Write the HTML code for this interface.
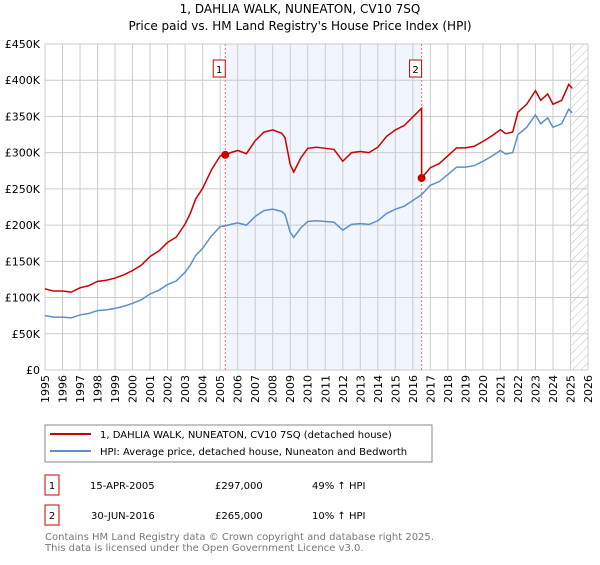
<!DOCTYPE html>
<html><head><meta charset="utf-8"><style>
body{margin:0;background:#fff;font-family:"Liberation Sans","DejaVu Sans",sans-serif;}
svg text{font-family:"DejaVu Sans","Liberation Sans",sans-serif;}
</style></head><body>
<svg id="c" width="600" height="560" viewBox="0 0 600 560" xmlns="http://www.w3.org/2000/svg">
<text x="300" y="13" font-size="12" text-anchor="middle">1, DAHLIA WALK, NUNEATON, CV10 7SQ</text>
<text x="300" y="30" font-size="12" text-anchor="middle">Price paid vs. HM Land Registry's House Price Index (HPI)</text>
<g id="plot"></g>
<rect x="45" y="425" width="387" height="37" fill="#fff" stroke="#888"/>
<line x1="50" y1="434" x2="91" y2="434" stroke="#cc0000" stroke-width="2"/>
<text x="100" y="438" font-size="10">1, DAHLIA WALK, NUNEATON, CV10 7SQ (detached house)</text>
<line x1="50" y1="451" x2="91" y2="451" stroke="#5b8fd0" stroke-width="2"/>
<text x="100" y="455" font-size="10">HPI: Average price, detached house, Nuneaton and Bedworth</text>
<rect x="45" y="475" width="14" height="20" fill="none" stroke="#cc0000"/>
<text x="52" y="489" font-size="10" text-anchor="middle">1</text>
<text x="90" y="489" font-size="10">15-APR-2005</text>
<text x="215" y="489" font-size="10">£297,000</text>
<text x="312" y="489" font-size="10">49% ↑ HPI</text>
<rect x="45" y="505" width="14" height="20" fill="none" stroke="#cc0000"/>
<text x="52" y="519" font-size="10" text-anchor="middle">2</text>
<text x="91" y="519" font-size="10">30-JUN-2016</text>
<text x="215" y="519" font-size="10">£265,000</text>
<text x="312" y="519" font-size="10">10% ↑ HPI</text>
<text x="45" y="540" font-size="10" fill="#777">Contains HM Land Registry data © Crown copyright and database right 2025.</text>
<text x="45" y="551" font-size="10" fill="#777">This data is licensed under the Open Government Licence v3.0.</text>
</svg>
<script>
const hpiYears=[1995,1995.5,1996,1996.5,1997,1997.5,1998,1998.5,1999,1999.5,2000,2000.5,2001,2001.5,2002,2002.5,2003,2003.3,2003.6,2004,2004.5,2005,2005.3,2005.6,2006,2006.5,2007,2007.5,2008,2008.5,2008.7,2009,2009.2,2009.6,2010,2010.5,2011,2011.5,2012,2012.5,2013,2013.5,2014,2014.5,2015,2015.5,2016,2016.5,2017,2017.5,2018,2018.5,2019,2019.5,2020,2020.5,2021,2021.3,2021.7,2022,2022.5,2023,2023.3,2023.7,2024,2024.5,2024.9,2025.1];
const hpiValues=[75,73,73,72,76,78,82,83,85,88,92,97,105,110,118,123,135,145,158,168,185,198,199,201,203,200,212,220,222,219,215,190,183,196,205,206,205,204,193,201,202,201,206,216,222,226,234,242,255,260,270,280,280,282,288,295,303,298,300,325,335,352,340,348,335,340,360,355];
const saleYears=[2005.29,2016.5];
const saleValues=[297,265];
const saleLabels=["1","2"];
const yTicks=[0,50,100,150,200,250,300,350,400,450];
const xTicks=[1995,1996,1997,1998,1999,2000,2001,2002,2003,2004,2005,2006,2007,2008,2009,2010,2011,2012,2013,2014,2015,2016,2017,2018,2019,2020,2021,2022,2023,2024,2025,2026];
const X0=45,X1=588,Y0=370,Y1=44;
const xs=y=>X0+(y-1995)/(2026-1995)*(X1-X0);
const ys=v=>Y0-v/450*(Y0-Y1);
const NS="http://www.w3.org/2000/svg";
const g=document.getElementById('plot');
function mk(t,a){const e=document.createElementNS(NS,t);for(const k in a)e.setAttribute(k,a[k]);g.appendChild(e);return e;}
let e;
e=mk('rect',{x:xs(saleYears[0]),y:Y1,width:xs(saleYears[1])-xs(saleYears[0]),height:Y0-Y1,fill:'#eef3fc',opacity:0.8});


const defs=document.createElementNS(NS,'defs');defs.innerHTML='<pattern id="h" width="6" height="6" patternUnits="userSpaceOnUse" patternTransform="rotate(45)"><line x1="0" y1="0" x2="0" y2="6" stroke="#bbb" stroke-width="1"/></pattern>';g.appendChild(defs);
e=mk('rect',{x:xs(2025),y:Y1,width:X1-xs(2025),height:Y0-Y1,fill:'url(#h)'});


xTicks.forEach(t=>{
 e=mk('line',{x1:xs(t),x2:xs(t),y1:Y1,y2:Y0,stroke:'#ccc','stroke-width':1});
 
 
 e=mk('text',{x:0,y:0,'font-size':11,'text-anchor':'end',transform:`translate(${xs(t)+4},${Y0+5}) rotate(-90)`});e.textContent=t;
 
 
});
yTicks.forEach(t=>{
 e=mk('line',{x1:X0,x2:X1,y1:ys(t),y2:ys(t),stroke:'#ccc','stroke-width':1});
 
 
 e=mk('text',{x:X0-5,y:ys(t)+4,'font-size':11,'text-anchor':'end'});e.textContent=t===0?'£0':'£'+t+'K';
 
 
});
saleYears.forEach((s,i)=>{
 e=mk('line',{x1:xs(s),x2:xs(s),y1:Y1,y2:Y0,stroke:'#f07070','stroke-dasharray':'2,2'});
 
 
 e=mk('rect',{x:xs(s)-12,y:60,width:12,height:17,fill:'#fff',stroke:'#cc0000'});
 
 
 e=mk('text',{x:xs(s)-6,y:73,'font-size':10,'text-anchor':'middle'});e.textContent=saleLabels[i];
 
 
});
function hpiAt(y){for(let i=1;i<hpiYears.length;i++){if(y<=hpiYears[i]){const f=(y-hpiYears[i-1])/(hpiYears[i]-hpiYears[i-1]);return hpiValues[i-1]+f*(hpiValues[i]-hpiValues[i-1]);}}return hpiValues[hpiValues.length-1];}
const blue=hpiYears.map((y,i)=>xs(y)+','+ys(hpiValues[i])).join(' ');
e=mk('polyline',{points:blue,fill:'none',stroke:'#5b8fd0','stroke-width':1.5});


const r1=saleValues[0]/hpiAt(saleYears[0]),r2=saleValues[1]/hpiAt(saleYears[1]);
const pts=[];
hpiYears.forEach((y,i)=>{if(y<saleYears[1])pts.push(xs(y)+','+ys(hpiValues[i]*r1));});
pts.push(xs(saleYears[1])+','+ys(hpiAt(saleYears[1])*r1));
pts.push(xs(saleYears[1])+','+ys(saleValues[1]));
hpiYears.forEach((y,i)=>{if(y>saleYears[1])pts.push(xs(y)+','+ys(hpiValues[i]*r2));});
e=mk('polyline',{points:pts.join(' '),fill:'none',stroke:'#cc0000','stroke-width':1.5});


saleYears.forEach((s,i)=>{
 e=mk('circle',{cx:xs(s),cy:ys(saleValues[i]),r:4,fill:'#cc0000'});
 
 
});
</script>
</body></html>
